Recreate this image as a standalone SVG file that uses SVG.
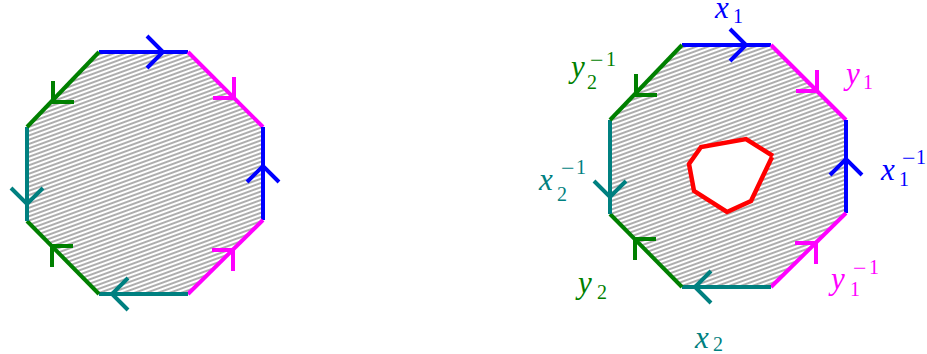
<svg xmlns="http://www.w3.org/2000/svg" xmlns:xlink="http://www.w3.org/1999/xlink" width="927" height="354" viewBox="0 0 927 354">
<style>
.e{fill:none;stroke-width:4;stroke-linecap:butt}
.a{fill:none;stroke-width:4;stroke-linecap:butt;stroke-linejoin:miter}
.blue{stroke:#0000ff}
.mag{stroke:#ff00ff}
.teal{stroke:#008080}
.green{stroke:#008000}
.lbl{font-family:"Liberation Serif","Times New Roman",serif;font-size:31px}
.it{font-style:italic}
.sub{font-size:20px;font-style:normal}
.mn{font-size:24px;font-style:normal}
</style>
<defs>
<pattern id="hatch" patternUnits="userSpaceOnUse" width="12" height="4" patternTransform="rotate(-20)">
<rect width="12" height="4" fill="#ffffff"/>
<line x1="0" y1="2" x2="12" y2="2" stroke="#4a4a4a" stroke-width="0.9"/>
</pattern>
<g id="oct">
<polygon points="682,45 771,45 846,120 846,213 771,287 682,287 610,214 610,120" fill="url(#hatch)"/>
<line class="e blue" x1="682" y1="45" x2="771" y2="45"/>
<line class="e mag" x1="771" y1="45" x2="846" y2="120"/>
<line class="e blue" x1="846" y1="120" x2="846" y2="213"/>
<line class="e mag" x1="846" y1="213" x2="771" y2="287"/>
<line class="e teal" x1="771" y1="287" x2="682" y2="287"/>
<line class="e green" x1="682" y1="287" x2="610" y2="214"/>
<line class="e teal" x1="610" y1="214" x2="610" y2="120"/>
<line class="e green" x1="610" y1="120" x2="682" y2="45"/>
<polyline class="a blue" points="730,29 746,45 730,61"/>
<polyline class="a mag" points="817,70 817,91 796,91"/>
<polyline class="a blue" points="830,175 846,159 862,175"/>
<polyline class="a mag" points="816,264 816,243 795,243"/>
<polyline class="a teal" points="711,271 695,287 711,303"/>
<polyline class="a green" points="656,239 635,239 635,260"/>
<polyline class="a teal" points="594,181 610,197 626,181"/>
<polyline class="a green" points="636,74 636,95 657,95"/>
</g>
</defs>
<g id="octagon-left" transform="translate(-583,7)">
<use xlink:href="#oct" href="#oct"/>
</g>
<g id="octagon-right">
<use xlink:href="#oct" href="#oct"/>
</g>
<g id="hole">
<path d="M772,157 L751,201 L727,212 L694,191 L689,164 L701,147 L746,139 L773,156" fill="#ffffff" stroke="#ff0000" stroke-width="4.5" stroke-linecap="butt" stroke-linejoin="miter"/>
</g>
<g id="labels" class="lbl">
<text fill="#0000ff"><tspan class="it" x="715" y="18">x</tspan><tspan class="sub" x="733" y="23">1</tspan></text>
<text fill="#008000"><tspan class="it" x="571" y="77">y</tspan><tspan class="sub" x="587" y="89">2</tspan><tspan class="mn" x="590" y="68">−</tspan><tspan class="sub" x="606" y="66">1</tspan></text>
<text fill="#ff00ff"><tspan class="it" x="846" y="84">y</tspan><tspan class="sub" x="863" y="89">1</tspan></text>
<text fill="#0000ff"><tspan class="it" x="881" y="180">x</tspan><tspan class="sub" x="899" y="186">1</tspan><tspan class="mn" x="902" y="166">−</tspan><tspan class="sub" x="916" y="164">1</tspan></text>
<text fill="#008080"><tspan class="it" x="539" y="190">x</tspan><tspan class="sub" x="557" y="201">2</tspan><tspan class="mn" x="561" y="176">−</tspan><tspan class="sub" x="576" y="174">1</tspan></text>
<text fill="#008000"><tspan class="it" x="578" y="293">y</tspan><tspan class="sub" x="597" y="299">2</tspan></text>
<text fill="#ff00ff"><tspan class="it" x="831" y="289">y</tspan><tspan class="sub" x="850" y="296">1</tspan><tspan class="mn" x="853" y="276">−</tspan><tspan class="sub" x="869" y="274">1</tspan></text>
<text fill="#008080"><tspan class="it" x="695" y="348">x</tspan><tspan class="sub" x="713" y="351">2</tspan></text>
</g>
</svg>
